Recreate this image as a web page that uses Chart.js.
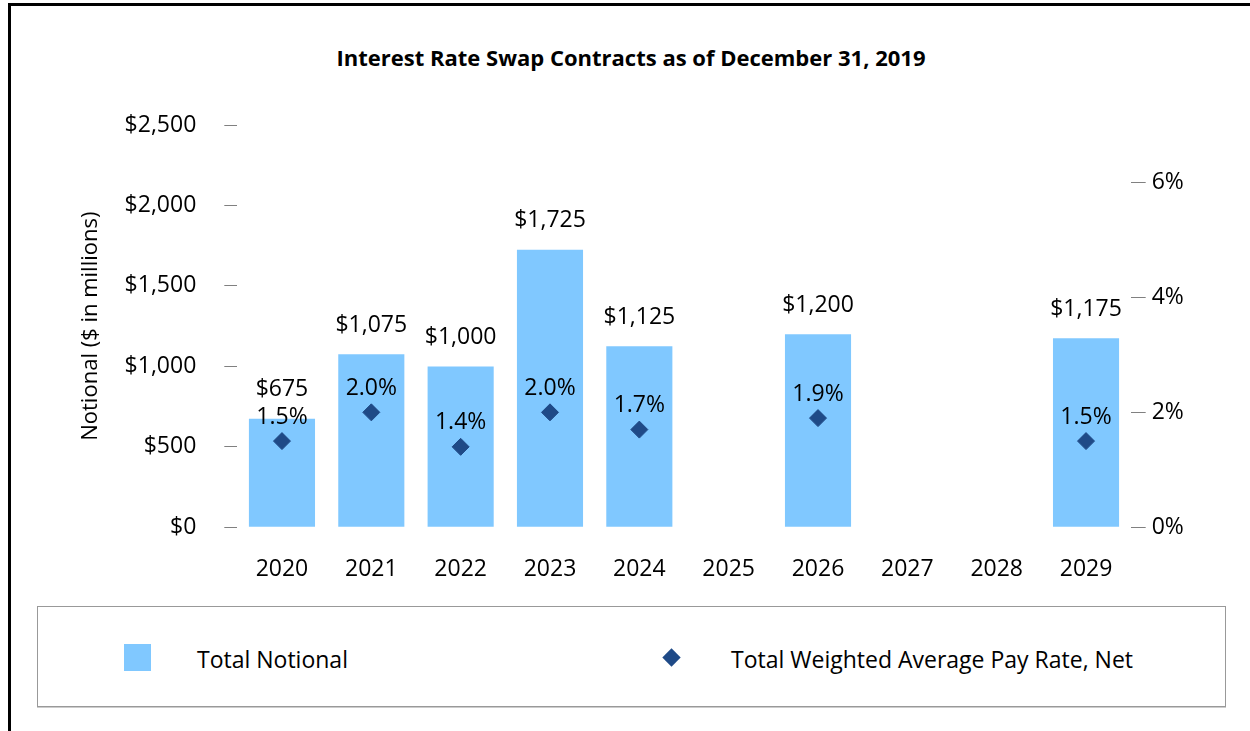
<!DOCTYPE html>
<html>
<head>
<meta charset="utf-8">
<script src="https://cdn.jsdelivr.net/npm/chart.js@4"></script>
<style>
  html, body { margin: 0; padding: 0; background: #fff; }
  #wrap { position: relative; width: 1250px; height: 731px; overflow: hidden; font-family: "Open Sans", sans-serif; color: #000; }
  #frame { position: absolute; left: 8px; top: 3px; width: 1400px; height: 900px; border-left: 3px solid #000; border-top: 3px solid #000; }
  #cv { position: absolute; left: 0; top: 0; }
  #title { position: absolute; left: 231px; width: 800px; top: 42px; text-align: center; font-weight: bold; font-size: 22px; line-height: 30px; }
  #legend { position: absolute; left: 37px; top: 606px; width: 1187px; height: 99px; border: 1px solid #999; box-shadow: 0 1px 0 #ccc; }
  .sw { position: absolute; left: 124px; top: 644px; width: 27px; height: 27px; }
  .dm { position: absolute; left: 665px; top: 651px; width: 13px; height: 13px; transform: rotate(45deg); }
  .lt { position: absolute; font-size: 23px; line-height: 30px; white-space: nowrap; }
</style>
</head>
<body>
<div id="wrap">
  <div id="frame"></div>
  <div id="title"></div>
  <canvas id="cv" width="1250" height="600"></canvas>
  <div id="legend"></div>
  <div class="sw" id="sw1"></div>
  <div class="lt" id="lt1" style="left:197px; top:644px;"></div>
  <div class="dm" id="dm2"></div>
  <div class="lt" id="lt2" style="left:731px; top:644px;"></div>
</div>
<script>
// ---- data ----
const chartTitle = "Interest Rate Swap Contracts as of December 31, 2019";
const years = ["2020", "2021", "2022", "2023", "2024", "2025", "2026", "2027", "2028", "2029"];
const notional = [675, 1075, 1000, 1725, 1125, null, 1200, null, null, 1175];
const payRate = [1.5, 2.0, 1.4, 2.0, 1.7, null, 1.9, null, null, 1.5];
const notionalTicks = [0, 500, 1000, 1500, 2000, 2500];
const rateTicks = [0, 2, 4, 6];
const seriesNames = ["Total Notional", "Total Weighted Average Pay Rate, Net"];
const yTitle = "Notional ($ in millions)";

const barColor = "#80C8FF";
const diamondColor = "#1F4A87";
const FONT = "'Open Sans', sans-serif";

document.getElementById('title').textContent = chartTitle;
document.getElementById('lt1').textContent = seriesNames[0];
document.getElementById('lt2').textContent = seriesNames[1];
document.getElementById('sw1').style.background = barColor;
document.getElementById('dm2').style.background = diamondColor;

const fmtMoney = v => '$' + Number(v).toLocaleString('en-US');

const labelPlugin = {
  id: 'valueLabels',
  afterDatasetsDraw(chart) {
    const ctx = chart.ctx;
    ctx.save();
    ctx.fillStyle = '#000';
    ctx.font = "23px " + FONT;
    ctx.textAlign = 'center';
    ctx.textBaseline = 'middle';
    const mBar = chart.getDatasetMeta(0);
    mBar.data.forEach((el, i) => {
      const v = notional[i];
      if (v == null) return;
      ctx.fillText(fmtMoney(v), el.x, el.y - 29);
    });
    const mPt = chart.getDatasetMeta(1);
    mPt.data.forEach((el, i) => {
      const v = payRate[i];
      if (v == null) return;
      ctx.fillText(v.toFixed(1) + '%', el.x, el.y - 24);
    });
    ctx.restore();
  }
};

new Chart(document.getElementById('cv'), {
  data: {
    labels: years,
    datasets: [
      {
        type: 'bar',
        label: seriesNames[0],
        data: notional,
        yAxisID: 'y',
        backgroundColor: barColor,
        borderWidth: 0,
        barPercentage: 0.74,
        categoryPercentage: 1.0,
        order: 2
      },
      {
        type: 'line',
        label: seriesNames[1],
        data: payRate,
        yAxisID: 'y1',
        showLine: false,
        pointStyle: 'rectRot',
        pointRadius: 8.5,
        pointHoverRadius: 8.5,
        pointBackgroundColor: diamondColor,
        pointBorderColor: diamondColor,
        pointBorderWidth: 1,
        order: 1
      }
    ]
  },
  options: {
    responsive: false,
    animation: false,
    events: [],
    layout: { padding: { left: 78, right: 0, top: 125, bottom: 0 } },
    plugins: {
      legend: { display: false },
      title: { display: false },
      tooltip: { enabled: false }
    },
    scales: {
      x: {
        grid: { display: false, drawTicks: false },
        border: { display: false },
        ticks: { color: '#000', font: { family: FONT, size: 23 }, padding: 28, maxRotation: 0 },
        afterFit(s) { s.height = 72.7; }
      },
      y: {
        position: 'left',
        min: 0, max: 2500,
        grid: { drawOnChartArea: false, drawTicks: true, tickLength: 13, color: '#808080', lineWidth: 1 },
        border: { display: false },
        ticks: {
          stepSize: 500,
          color: '#000',
          font: { family: FONT, size: 23 },
          padding: 28,
          callback: v => notionalTicks.includes(v) ? fmtMoney(v) : ''
        },
        title: { display: true, text: yTitle, color: '#000', font: { family: FONT, size: 22 }, padding: 0 },
        afterFit(s) { s.width = 159.3; }
      },
      y1: {
        position: 'right',
        min: 0, max: 7,
        grid: { drawOnChartArea: false, drawTicks: true, tickLength: 15, color: '#808080', lineWidth: 1 },
        border: { display: false },
        ticks: {
          stepSize: 2,
          includeBounds: false,
          color: '#000',
          font: { family: FONT, size: 23 },
          padding: 6,
          callback: v => rateTicks.includes(v) ? v + '%' : ''
        },
        afterFit(s) { s.width = 119.3; }
      }
    }
  },
  plugins: [labelPlugin]
});
</script>
</body>
</html>
